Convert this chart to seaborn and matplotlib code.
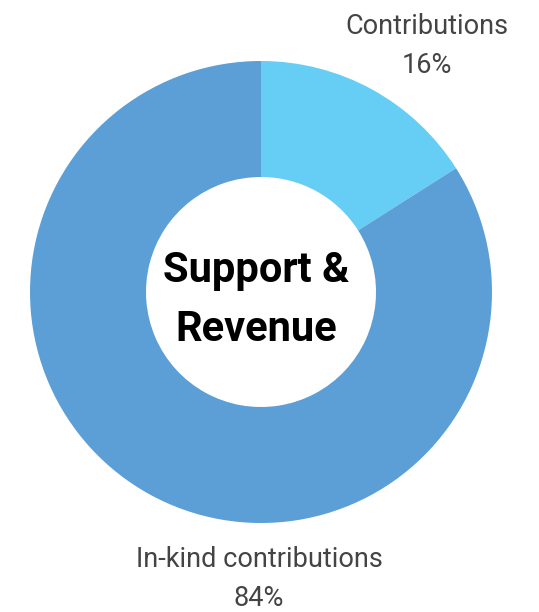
import matplotlib
matplotlib.use("Agg")
import matplotlib.pyplot as plt
import seaborn as sns

# datos del gráfico
categories = ["Contributions", "In-kind contributions"]
shares = [16, 84]
colors = ["#66CDF5", "#5B9FD6"]
center_title = "Support &\nRevenue"

sns.set_theme(style="white")
plt.rcParams["font.family"] = ["Roboto", "DejaVu Sans"]

W, H = 539, 612
fig = plt.figure(figsize=(W / 100, H / 100), dpi=100)
ax = fig.add_axes([0, 0, 1, 1])

cx, cy, r_out, r_in = 261, 320, 231, 115
ax.pie(shares, colors=colors, startangle=90, counterclock=False,
       center=(cx, cy), radius=r_out, frame=True,
       wedgeprops=dict(width=r_out - r_in, linewidth=0))
ax.set_xlim(0, W)
ax.set_ylim(0, H)
ax.set_aspect("equal")
ax.axis("off")

# título central
ax.text(cx - 5, cy - 8, center_title, ha="center", va="center", fontsize=30,
        fontweight="bold", color="black", linespacing=1.55)

lbl = dict(ha="center", va="center", fontsize=19.5, color="#444444", linespacing=1.55)
ax.text(427, H - 46, f"{categories[0]}\n{shares[0]}%", **lbl)
ax.text(259, H - 579, f"{categories[1]}\n{shares[1]}%", **lbl)

fig.savefig("out.png", dpi=100)
